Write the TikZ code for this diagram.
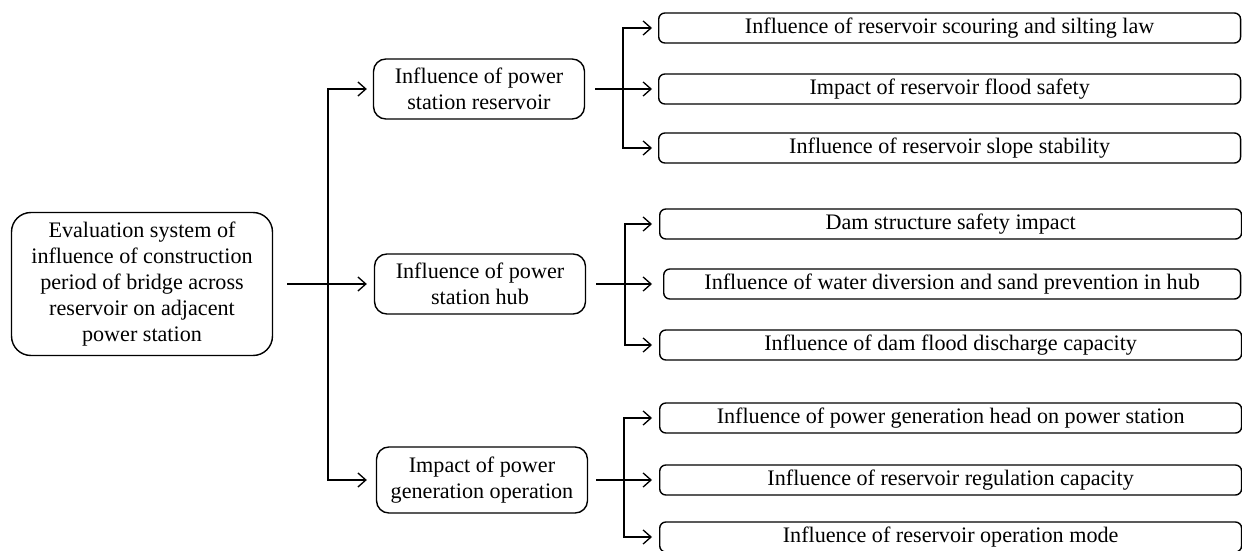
\documentclass[tikz,border=0pt]{standalone}
\usepackage{fontspec}
\setmainfont{Liberation Serif}
\usetikzlibrary{arrows.meta}
\begin{document}
\begin{tikzpicture}[x=0.02cm,y=-0.02cm]
\tikzstyle{rootbox}=[draw,line width=0.8pt,rounded corners=11pt,align=center,minimum width=5.22cm,minimum height=2.86cm,font=\fontsize{12.6}{14.8}\selectfont]
\tikzstyle{midbox}=[draw,line width=0.8pt,rounded corners=7pt,align=center,minimum width=4.22cm,minimum height=1.2cm,inner sep=1pt,font=\fontsize{12.6}{14.8}\selectfont]
\tikzstyle{leafbox}=[draw,line width=0.8pt,rounded corners=3.5pt,anchor=west,minimum width=11.64cm,minimum height=0.6cm,inner sep=0pt,font=\fontsize{12.6}{14.8}\selectfont]
\tikzstyle{link}=[-{Straight Barb[length=4.5pt,width=8pt]},line width=0.75pt]
\useasboundingbox (0,0) rectangle (1242,551);
% first level
\node [rootbox] (root) at (142,284) {Evaluation system of\\influence of construction\\period of bridge across\\reservoir on adjacent\\power station};
% second level
\node [midbox] (res) at (479,89) {Influence of power\\station reservoir};
\node [midbox] (hub) at (480,284) {Influence of power\\station hub};
\node [midbox,minimum height=1.32cm] (gen) at (482,480) {Impact of power\\generation operation};
% third level
\node [leafbox] (res1) at (658,28) {Influence of reservoir scouring and silting law};
\node [leafbox] (res2) at (658,89) {Impact of reservoir flood safety};
\node [leafbox] (res3) at (658,148) {Influence of reservoir slope stability};
\node [leafbox] (hub1) at (659,224) {Dam structure safety impact};
\node [leafbox,minimum width=11.54cm] (hub2) at (663,284) {Influence of water diversion and sand prevention in hub};
\node [leafbox] (hub3) at (659,345) {Influence of dam flood discharge capacity};
\node [leafbox] (gen1) at (659,418) {Influence of power generation head on power station};
\node [leafbox] (gen2) at (659,480) {Influence of reservoir regulation capacity};
\node [leafbox] (gen3) at (659,537) {Influence of reservoir operation mode};
% split points
\coordinate (split) at (328,284);
\coordinate (ressplit) at (623,89);
\coordinate (hubsplit) at (625,284);
\coordinate (gensplit) at (624,480);
% connectors
\draw[link,shorten <=0.28cm,shorten >=0.14cm] (root) -- (hub);
\draw[link,shorten >=0.12cm] (split) |- (res);
\draw[link,shorten >=0.18cm] (split) |- (gen);
\draw[link,shorten <=0.2cm,shorten >=0.12cm] (res) -- (res2);
\draw[link,shorten >=0.12cm] (ressplit) |- (res1);
\draw[link,shorten >=0.12cm] (ressplit) |- (res3);
\draw[link,shorten <=0.2cm,shorten >=0.22cm] (hub) -- (hub2);
\draw[link,shorten >=0.14cm] (hubsplit) |- (hub1);
\draw[link,shorten >=0.14cm] (hubsplit) |- (hub3);
\draw[link,shorten <=0.16cm,shorten >=0.14cm] (gen) -- (gen2);
\draw[link,shorten >=0.14cm] (gensplit) |- (gen1);
\draw[link,shorten >=0.14cm] (gensplit) |- (gen3);
\end{tikzpicture}
\end{document}
